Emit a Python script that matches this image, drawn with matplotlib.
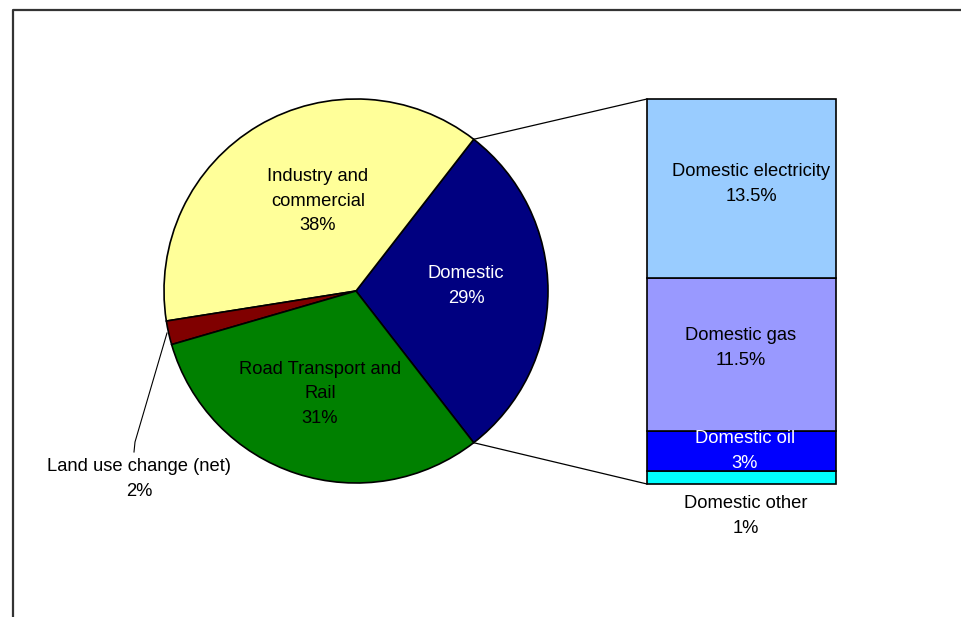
import numpy as np
import matplotlib.pyplot as plt

plt.rcParams['font.family'] = ['Liberation Sans', 'DejaVu Sans']

# main pie: share of emissions by sector (%)
sectors = ["Domestic", "Industry and\ncommercial", "Land use change (net)", "Road Transport and\nRail"]
shares = [29, 38, 2, 31]
sector_colors = ["#000080", "#FFFF99", "#800000", "#008000"]

# breakdown of the domestic slice (%)
dom_parts = ["Domestic electricity", "Domestic gas", "Domestic oil", "Domestic other"]
dom_shares = [13.5, 11.5, 3, 1]
dom_labels = ["13.5%", "11.5%", "3%", "1%"]
dom_colors = ["#99CCFF", "#9999FF", "#0000FF", "#00FFFF"]

W, H = 962, 617
fig = plt.figure(figsize=(W / 100, H / 100), dpi=100)
ax = fig.add_axes([0, 0, 1, 1])

cx, cy, R = 356, 326, 192
half = shares[0] / 100 * 360 / 2
ax.pie(shares, colors=sector_colors, startangle=-half, counterclock=True,
       center=(cx, cy), radius=R,
       wedgeprops=dict(edgecolor="black", linewidth=1.2))

# stacked bar for domestic
bx, bw = 741.5, 189
b_bot, b_top = 133, 518
scale = (b_top - b_bot) / sum(dom_shares)
bottom = b_bot
for v, c in zip(dom_shares[::-1], dom_colors[::-1]):
    ax.bar(bx, v * scale, bottom=bottom, width=bw, color=c,
           edgecolor="black", linewidth=1.2)
    bottom += v * scale

# connector lines from the domestic wedge to the bar
a = np.radians(half)
ax.plot([cx + R * np.cos(a), bx - bw / 2], [cy + R * np.sin(a), b_top], color="black", lw=0.9)
ax.plot([cx + R * np.cos(a), bx - bw / 2], [cy - R * np.sin(a), b_bot], color="black", lw=0.9)

fs = 13.2
kw = dict(ha="center", va="center", fontsize=fs, linespacing=1.6)
ax.text(466, 617 - 286, f"{sectors[0]}\n{shares[0]}%", color="white", **kw)
ax.text(318, 617 - 201, f"{sectors[1]}\n{shares[1]}%", color="black", **kw)
ax.text(320, 617 - 394, f"{sectors[3]}\n{shares[3]}%", color="black", **kw)
ax.text(139, 617 - 479, f"{sectors[2]}\n{shares[2]}%", color="black", **kw)

# leader line for the land use slice
ax.plot([167, 135, 134], [617 - 333, 617 - 442, 617 - 452], color="black", lw=0.8)

ax.text(751, 617 - 184, f"{dom_parts[0]}\n{dom_labels[0]}", color="black", **kw)
ax.text(741, 617 - 348, f"{dom_parts[1]}\n{dom_labels[1]}", color="black", **kw)
ax.text(745, 617 - 451, f"{dom_parts[2]}\n{dom_labels[2]}", color="white", **kw)
ax.text(746, 617 - 516, f"{dom_parts[3]}\n{dom_labels[3]}", color="black", **kw)

# chart frame (left and top edges)
ax.plot([13, 13, W], [0, 607, 607], color="#333333", lw=1.6)

ax.set_xlim(0, W)
ax.set_ylim(0, H)
ax.set_aspect("equal")
ax.axis("off")

fig.savefig("out.png", dpi=100)
